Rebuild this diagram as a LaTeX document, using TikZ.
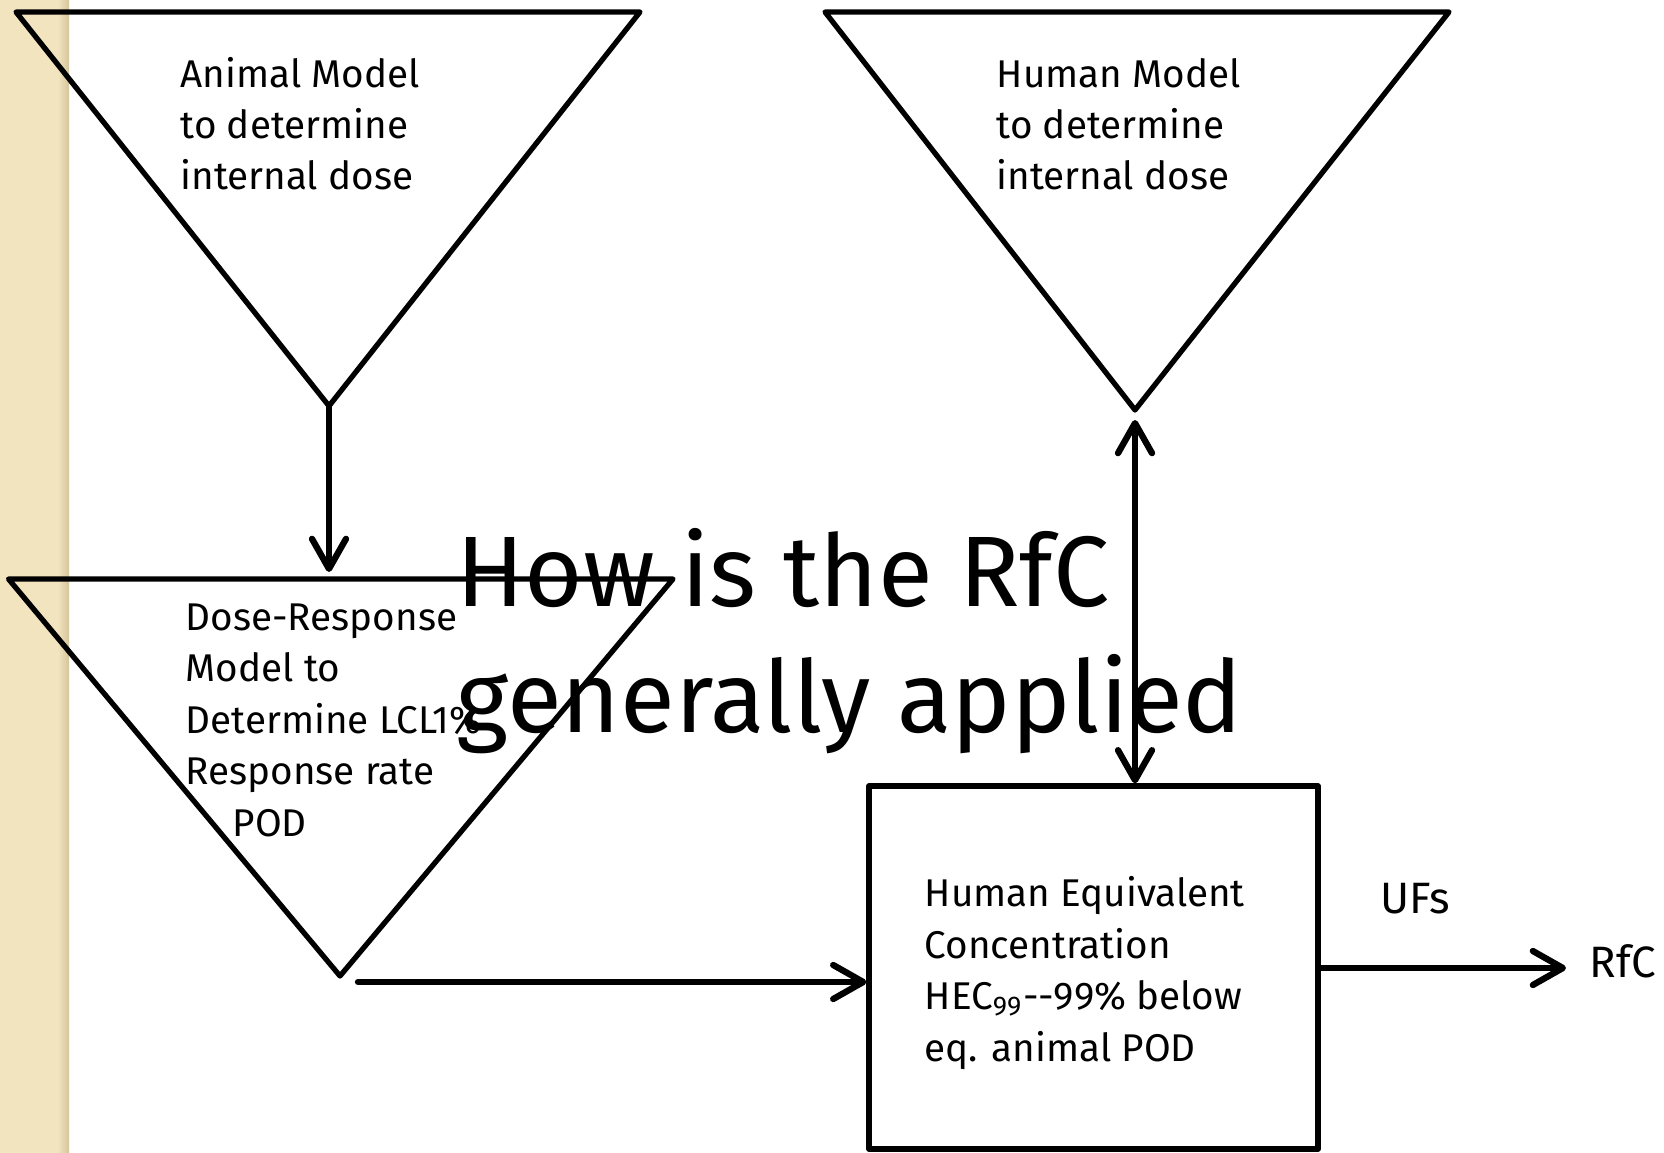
\documentclass[tikz,border=0pt]{standalone}
\usepackage{fontspec}
\setmainfont{Fira Sans}
\usepackage{xcolor}
\usetikzlibrary{arrows.meta}
\definecolor{stripbeige}{RGB}{242,228,190}
\definecolor{stripedge}{RGB}{212,196,156}

\begin{document}
\begin{tikzpicture}[>={Straight Barb[length=3mm,width=3.4mm,round]},line join=round,
  tri/.style={line width=1.5pt},
  flow/.style={line width=1.8pt,line cap=round},
  lbl/.style={anchor=base west,align=left,inner sep=0pt,font={\fontsize{11}{14.65}\selectfont}},
  sidelbl/.style={anchor=base west,inner sep=0pt,font={\fontsize{12.5}{15}\selectfont}},
  headline/.style={anchor=base west,align=left,inner sep=0pt,font={\fontsize{28.5}{35.6}\selectfont}}]
  \useasboundingbox (0,0) rectangle (16.64,-11.53);
  \fill[white] (0,0) rectangle (16.64,-11.53);
  \fill[stripbeige] (0,0) rectangle (0.69,-11.53);
  \shade[left color=stripbeige,right color=stripedge] (0.58,0) rectangle (0.69,-11.53);
  % triangle corners
  \coordinate (AL) at (0.160,-0.120);
  \coordinate (AR) at (6.400,-0.120);
  \coordinate (AT) at (3.290,-4.060);
  \coordinate (DL) at (0.085,-5.790);
  \coordinate (DR) at (6.730,-5.790);
  \coordinate (DT) at (3.400,-9.760);
  \coordinate (HL) at (8.250,-0.120);
  \coordinate (HR) at (14.490,-0.120);
  \coordinate (HT) at (11.350,-4.100);
  % arrow ends
  \coordinate (DI) at (3.290,-5.720);
  \coordinate (HU) at (11.350,-4.200);
  \coordinate (DO) at (3.580,-9.820);
  \coordinate (RE) at (15.660,-9.680);
  \draw[tri] (AL) -- (AR) -- (AT) -- cycle;
  \draw[tri] (DL) -- (DR) -- (DT) -- cycle;
  \draw[tri] (HL) -- (HR) -- (HT) -- cycle;
  \node[draw,line width=1.5pt,minimum width=4.49cm,minimum height=3.63cm,inner sep=0pt] (hec) at (10.935,-9.675) {};
  \node[lbl] (animal) at (1.80,-1.90) {Animal Model\\to determine\\internal dose};
  \node[lbl] (human) at (9.96,-1.90) {Human Model\\to determine\\internal dose};
  \node[lbl] (doseresp) at (1.85,-8.36) {Dose-Response\\Model to\\Determine LCL1\%\\Response rate\\\hspace*{0.47cm}POD};
  \node[lbl] (hectxt) at (9.24,-10.61) {Human Equivalent\\Concentration\\HEC\textsubscript{99}-{}-99\% below\\eq. animal POD};
  \node[sidelbl] (ufs) at (13.80,-9.13) {UFs};
  \node[sidelbl] (rfc) at (15.89,-9.77) {RfC};
  \node[headline] (how) at (4.56,-7.32) {How is the RfC\\generally applied};
  \draw[flow,->] (AT) -- (DI);
  \draw[flow,<->] (HU) -- (hec.north -| HU);
  \draw[flow,->] (DO) -- (hec.west |- DO);
  \draw[flow,->] (hec.east |- RE) -- (RE);
\end{tikzpicture}
\end{document}
